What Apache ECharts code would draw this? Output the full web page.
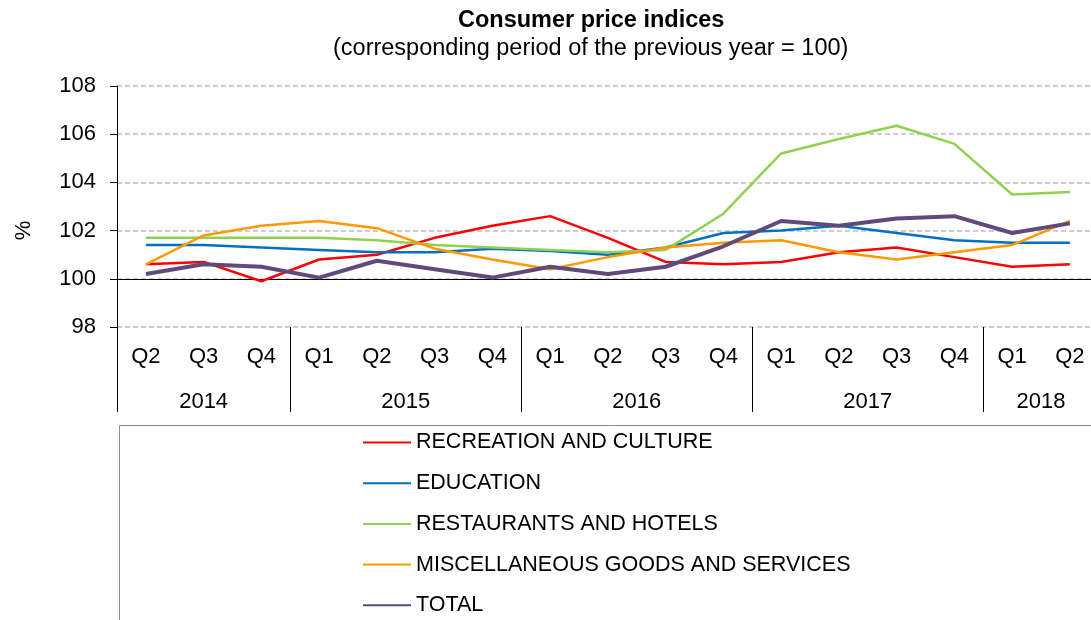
<!DOCTYPE html>
<html>
<head>
<meta charset="utf-8">
<script src="https://cdn.jsdelivr.net/npm/echarts@6/dist/echarts.min.js"></script>
<style>
  html, body { margin: 0; padding: 0; background: #fff; overflow: hidden; }
  #chart { width: 1100px; height: 620px; }
</style>
</head>
<body>
<div id="chart"></div>
<script>
var quarters = ['Q2','Q3','Q4','Q1','Q2','Q3','Q4','Q1','Q2','Q3','Q4','Q1','Q2','Q3','Q4','Q1','Q2'];
var yearLabels = {1: '2014', 4.5: '2015', 8.5: '2016', 12.5: '2017', 15.5: '2018'};
var yearStarts = [0, 3, 7, 11, 15];

var recreation = [100.6,100.7,99.9,100.8,101.0,101.7,102.2,102.6,101.7,100.7,100.6,100.7,101.1,101.3,100.9,100.5,100.6];
var education = [101.4,101.4,101.3,101.2,101.1,101.1,101.25,101.15,101.0,101.3,101.9,102.0,102.2,101.9,101.6,101.5,101.5];
var restaurants = [101.7,101.7,101.7,101.7,101.6,101.4,101.3,101.2,101.1,101.2,102.7,105.2,105.8,106.35,105.6,103.5,103.6];
var misc = [100.6,101.8,102.2,102.4,102.1,101.25,100.8,100.4,100.9,101.3,101.5,101.6,101.1,100.8,101.1,101.4,102.4];
var total = [100.2,100.6,100.5,100.05,100.75,100.4,100.05,100.5,100.2,100.5,101.35,102.4,102.2,102.5,102.6,101.9,102.3];

var chart = echarts.init(document.getElementById('chart'));
var font = 'Liberation Sans, Arial, sans-serif';

function line(name, data, color, width) {
    return {
        name: name,
        type: 'line',
        data: data,
        symbol: 'none',
        lineStyle: { color: color, width: width },
        itemStyle: { color: color },
        z: 3
    };
}

var series = [
    line('RECREATION AND CULTURE', recreation, '#FF0000', 2.5),
    line('EDUCATION', education, '#0070C0', 2.5),
    line('RESTAURANTS AND HOTELS', restaurants, '#92D050', 2.5),
    line('MISCELLANEOUS GOODS AND SERVICES', misc, '#FF9900', 2.5),
    line('TOTAL', total, '#604A7B', 4)
];
series[0].markLine = {
    silent: true,
    symbol: 'none',
    label: { show: false },
    lineStyle: { color: '#000', type: 'solid', width: 1 },
    data: [{ yAxis: 100 }],
    z: 2
};

var option = {
    animation: false,
    textStyle: { fontFamily: font },
    title: [
        { text: 'Consumer price indices', left: 453, top: 4,
          textStyle: { fontSize: 23.5, fontWeight: 'bold', color: '#000', fontFamily: font } },
        { text: '(corresponding period of the previous year = 100)', left: 328, top: 32,
          textStyle: { fontSize: 23.5, fontWeight: 'normal', color: '#000', fontFamily: font } }
    ],
    legend: {
        orient: 'vertical',
        left: 362,
        top: 431.5,
        padding: 0,
        itemWidth: 48,
        itemHeight: 20,
        itemGap: 18.7,
        itemStyle: { opacity: 0 },
        textStyle: { fontSize: 21.5, lineHeight: 20, color: '#000', fontFamily: font },
        data: series.map(function (s) { return s.name; })
    },
    grid: { left: 117, top: 86, right: 1.25, height: 241, outerBoundsMode: 'none' },
    xAxis: [
        {
            type: 'category',
            data: quarters,
            boundaryGap: true,
            position: 'bottom',
            axisLine: { show: false },
            axisTick: {
                show: true,
                length: 85,
                interval: function (i) { return yearStarts.indexOf(i) >= 0; },
                lineStyle: { color: '#000', width: 1 }
            },
            axisLabel: { interval: 0, fontSize: 22, color: '#000', margin: 19, fontFamily: font },
            splitLine: { show: false }
        },
        {
            type: 'value',
            min: -0.5,
            max: 16.5,
            interval: 0.5,
            position: 'bottom',
            offset: 43,
            axisLine: { show: false },
            axisTick: { show: false },
            splitLine: { show: false },
            axisLabel: {
                fontSize: 22, color: '#000', margin: 21, fontFamily: font,
                formatter: function (v) { return yearLabels[v] || ''; }
            }
        }
    ],
    yAxis: {
        type: 'value',
        min: 98,
        max: 108,
        interval: 2,
        name: '%',
        nameLocation: 'middle',
        nameGap: 82,
        nameRotate: 90,
        nameTextStyle: { fontSize: 22, color: '#000', fontFamily: font, padding: [0, 48, 0, 0] },
        axisLine: { show: true, onZero: false, lineStyle: { color: '#000', width: 1 } },
        axisTick: { show: true, length: 7, lineStyle: { color: '#000' } },
        axisLabel: { fontSize: 22, color: '#000', margin: 21, fontFamily: font },
        splitLine: { show: true, lineStyle: { color: '#BFBFBF', type: [5, 3], width: 1.5 } }
    },
    graphic: [
        {
            type: 'rect',
            left: 117, top: 423,
            shape: { width: 1000, height: 300 },
            style: { fill: 'none', stroke: '#8C8C8C', lineWidth: 1 },
            z: 0
        }
    ],
    series: series
};

chart.setOption(option);
window.onresize = function () { chart.resize(); };
</script>
</body>
</html>
